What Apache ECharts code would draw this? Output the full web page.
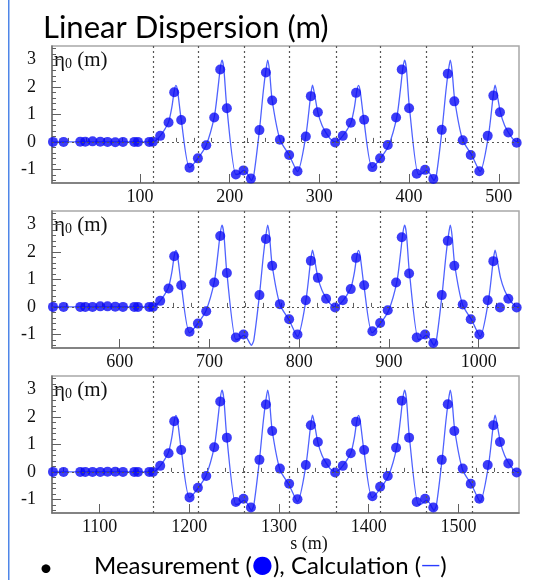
<!DOCTYPE html>
<html>
<head>
<meta charset="utf-8">
<script src="https://cdn.jsdelivr.net/npm/echarts@6.0.0/dist/echarts.min.js"></script>
<style>
html, body { margin: 0; padding: 0; background: #fff; }
#chart { width: 540px; height: 580px; }
</style>
</head>
<body>
<div id="chart"></div>
<script>
// one superperiod of the ring, three panels side by side in s
const PERIOD = 522.5
const panelMin = [2, 524.5, 1047]
const panelMax = [522.5, 1045, 1567.5]
const xLabels = [
    [100, 200, 300, 400, 500],
    [600, 700, 800, 900, 1000],
    [1100, 1200, 1300, 1400, 1500],
]
const yLabels = [-1, 0, 1, 2, 3]

// dotted module boundaries (local s inside a superperiod)
const vLines = [115.4, 165, 216.2, 266.9, 318.3, 368.4, 419.2, 469.9]

// BPM positions (local s)
const bpmS = [
    3.1, 14.9, 33.5, 39.1, 47.2, 55.8, 63.9, 72.5, 81.1, 93.7, 97.8, 110.4, 114.5,
    122.6, 131.9, 138.2, 146.0, 155.3, 164.6, 173.9, 182.8, 189.5, 196.9, 206.9, 215.4,
    223.7, 233.2, 240.4, 247.4, 256.0, 266.3, 275.6, 284.9, 290.5, 298.3, 307.5, 317.6,
    326.1, 335.0, 340.9, 349.9, 359.1, 367.7, 376.2, 385.5, 391.8, 400.0, 408.5, 417.8,
    427.0, 436.4, 443.1, 450.4, 459.8, 468.7, 478.3, 487.6, 493.9, 501.3, 510.6, 519.9,
]

// measured eta0 (m), one list per panel
const meas1 = [
    0, 0, 0.01, 0.01, 0.02, 0.01, 0, -0.01, 0, 0, 0, 0, 0.01,
    0.22, 0.71, 1.81, 0.80, -0.94, -0.60, -0.12, 0.89, 2.64, 1.23, -1.19, -1.04,
    -1.34, 0.43, 2.53, 1.51, 0.08, -0.48, -1.07, 0.20, 1.67, 1.08, 0.32, -0.02,
    0.22, 0.70, 1.79, 0.81, -0.92, -0.60, -0.11, 0.89, 2.64, 1.23, -1.16, -1.02,
    -1.35, 0.44, 2.49, 1.48, 0.06, -0.48, -1.07, 0.22, 1.69, 1.08, 0.34, -0.03,
]
const meas2 = [
    0, 0, 0, 0, 0, 0.02, 0.02, 0.01, 0, 0, 0, 0, 0,
    0.22, 0.67, 1.85, 0.79, -0.91, -0.61, -0.16, 0.89, 2.59, 1.24, -1.12, -1.01,
    null, 0.43, 2.48, 1.50, 0.10, -0.45, -1.01, 0.24, 1.68, 1.06, 0.30, -0.02,
    0.24, 0.65, 1.79, 0.79, -0.89, -0.59, -0.12, 0.89, 2.54, 1.22, -1.12, -1.01,
    -1.32, 0.43, 2.41, 1.50, 0.09, -0.45, -1.01, 0.24, 1.67, -0.02, 0.30, -0.02,
]
const meas3 = [
    0, 0, 0, 0, 0, 0, 0.01, 0.01, 0, 0, 0, 0, 0,
    0.22, 0.68, 1.85, 0.80, -0.93, -0.58, -0.15, 0.90, 2.57, 1.25, -1.10, -0.98,
    -1.30, 0.44, 2.46, 1.49, 0.12, -0.43, -1.00, 0.25, 1.70, 1.09, 0.32, -0.02,
    0.22, 0.68, 1.83, 0.80, -0.89, -0.54, -0.15, 0.88, 2.60, 1.25, -1.10, -0.98,
    -1.30, 0.44, 2.47, 1.49, 0.12, -0.43, -0.98, 0.25, 1.70, 1.09, 0.31, -0.02,
]
const measAll = [meas1, meas2, meas3]

// calculated eta0 over one superperiod (local s)
const calcS = [
    2, 114.5, 118.5, 122.6, 127.5, 131.9, 135.5, 138.2, 140.1, 142,
    146, 155.3, 164.6, 173.9, 182.8, 186.8, 189.5, 191.5, 193.5, 196.9,
    206.9, 211, 215.4, 219, 224.3, 227, 233.2, 237.5, 240.4, 242.4,
    244.4, 247.4, 256, 266.3, 275.6, 284.9, 290.5, 292.4, 294.3, 298.3,
    303, 307.5, 312.5, 317.6,
    322, 326.1, 331, 335.4, 339, 341.7, 343.6, 345.5, 349.5, 358.8,
    368.1, 377.4, 386.3, 390.3, 393, 395, 397, 400.4, 410.4, 414.5,
    418.9, 422.5, 427.8, 430.5, 436.7, 441, 443.9, 445.9, 447.9, 450.9,
    459.5, 469.8, 479.1, 488.4, 494, 495.9, 497.8, 501.8, 506.5, 511,
    516, 521.1, 522.5,
]
const calcEta = [
    0, 0, 0.07, 0.22, 0.45, 0.72, 1.25, 1.85, 2.06, 1.85,
    0.82, -0.94, -0.60, -0.12, 0.90, 1.9, 2.68, 2.98, 2.68, 1.24,
    -1.19, -1.16, -1.04, -1.12, -1.40, -1.2, 0.43, 1.85, 2.62, 2.98,
    2.6, 1.52, 0.09, -0.48, -1.08, 0.22, 1.75, 2.07, 1.8, 1.08,
    0.6, 0.33, 0.1, 0,
    0.07, 0.22, 0.45, 0.72, 1.25, 1.85, 2.06, 1.85, 0.82, -0.94,
    -0.60, -0.12, 0.90, 1.9, 2.68, 2.98, 2.68, 1.24, -1.19, -1.16,
    -1.04, -1.12, -1.40, -1.2, 0.43, 1.85, 2.62, 2.98, 2.6, 1.52,
    0.09, -0.48, -1.08, 0.22, 1.75, 2.07, 1.8, 1.08, 0.6, 0.33,
    0.1, 0, 0,
]

const gridTops = [46, 211, 376]
const serif = 'Liberation Serif'
const lineColor = '#4f62ff'
const dotColor = '#0b0bf5'

// minor ticks
const minorX = (lo, hi) => {
    let out = []
    for (let v = Math.ceil(lo / 20) * 20; v <= hi; v += 20) {
        if (v % 100 !== 0) out.push(v)
    }
    return out
}
let minorY = []
for (let i = -7; i <= 17; i++) {
    if (i % 5 !== 0) minorY.push(i / 5)
}

let grid = [], xAxis = [], yAxis = [], series = [], graphic = []

gridTops.forEach((top, k) => {
    grid.push({
        left: 52, top: top, width: 467, height: 137,
        show: true, borderColor: '#a8a8a8', borderWidth: 1.5,
    })
    // major x axis
    xAxis.push({
        gridIndex: k, type: 'value', position: 'bottom',
        min: panelMin[k], max: panelMax[k],
        axisLine: {onZero: false, lineStyle: {color: '#707070', width: 1.5}},
        axisTick: {inside: true, length: 9, customValues: xLabels[k], lineStyle: {color: '#606060'}},
        axisLabel: {
            customValues: xLabels[k], margin: 5, formatter: (v) => String(v),
            fontFamily: serif, fontSize: 18, color: '#111',
        },
        splitLine: {show: false},
    })
    // minor x ticks
    xAxis.push({
        gridIndex: k, type: 'value', position: 'bottom',
        min: panelMin[k], max: panelMax[k],
        axisLine: {show: false},
        axisTick: {inside: true, length: 4, customValues: minorX(panelMin[k], panelMax[k]), lineStyle: {color: '#606060'}},
        axisLabel: {show: false},
        splitLine: {show: false},
    })
    yAxis.push({
        gridIndex: k, type: 'value', position: 'left',
        min: -1.5, max: 3.5,
        axisLine: {show: true, onZero: false, lineStyle: {color: '#707070', width: 1.5}},
        axisTick: {show: true, inside: true, length: 9, customValues: yLabels, lineStyle: {color: '#606060'}},
        axisLabel: {customValues: yLabels, margin: 16, fontFamily: serif, fontSize: 18, color: '#111'},
        splitLine: {show: false},
    })
    yAxis.push({
        gridIndex: k, type: 'value', position: 'left',
        min: -1.5, max: 3.5,
        axisLine: {show: false},
        axisTick: {show: true, inside: true, length: 4, customValues: minorY, lineStyle: {color: '#606060'}},
        axisLabel: {show: false},
        splitLine: {show: false},
    })

    const off = k * PERIOD
    series.push({
        type: 'line',
        xAxisIndex: 2 * k, yAxisIndex: 2 * k,
        data: calcS.map((s, i) => [s + off, calcEta[i]]),
        smooth: 0.25,
        showSymbol: false,
        lineStyle: {color: lineColor, width: 1.3},
        z: 3,
        markLine: {
            silent: true, symbol: 'none', animation: false,
            label: {show: false},
            lineStyle: {color: '#555', type: [2, 3], width: 1.2},
            data: vLines.map((v) => ({xAxis: v + off})).concat([{yAxis: 0}]),
        },
    })
    series.push({
        type: 'scatter',
        xAxisIndex: 2 * k, yAxisIndex: 2 * k,
        data: bpmS.map((s, i) => [s + off, measAll[k][i]]).filter((p) => p[1] !== null),
        symbolSize: 10,
        itemStyle: {color: dotColor},
        clip: false,
        z: 4,
    })

    graphic.push({
        type: 'text', x: 54, y: top + 14,
        style: {
            text: '{a|η}{b|0}{a| (m)}',
            verticalAlign: 'middle',
            rich: {
                a: {fontFamily: serif, fontSize: 21, fill: '#111', lineHeight: 22, verticalAlign: 'middle'},
                b: {fontFamily: serif, fontSize: 14, fill: '#111', lineHeight: 12, verticalAlign: 'bottom'},
            },
        },
    })
})

graphic.push(
    {type: 'rect', shape: {x: 8, y: 0, width: 1.5, height: 580}, style: {fill: '#4f86e8'}},
    {type: 'text', x: 43, y: 28, style: {text: 'Linear Dispersion (m)', fontFamily: 'Lato', fontSize: 31, fill: '#000', verticalAlign: 'middle'}},
    {type: 'text', x: 309, y: 544, style: {text: 's (m)', fontFamily: serif, fontSize: 18, fill: '#111', align: 'center', verticalAlign: 'middle'}},
    {type: 'text', x: 46, y: 568, style: {text: '•', fontFamily: 'Lato', fontSize: 24, fill: '#000', align: 'center', verticalAlign: 'middle'}},
    {
        type: 'text', x: 94, y: 566,
        style: {
            text: '{t|Measurement (}{d|●}{t|), Calculation (}{l|—}{t|)}',
            verticalAlign: 'middle',
            rich: {
                t: {fontFamily: 'Lato', fontSize: 24, fill: '#000'},
                d: {fontFamily: 'DejaVu Sans', fontSize: 24, fill: '#0000ff'},
                l: {fontFamily: 'DejaVu Sans', fontSize: 19, fill: '#2a3cff'},
            },
        },
    }
)

const myChart = echarts.init(document.getElementById('chart'), null, {renderer: 'canvas'})
myChart.setOption({
    animation: false,
    backgroundColor: '#fff',
    grid: grid,
    xAxis: xAxis,
    yAxis: yAxis,
    series: series,
    graphic: graphic,
})
</script>
</body>
</html>
